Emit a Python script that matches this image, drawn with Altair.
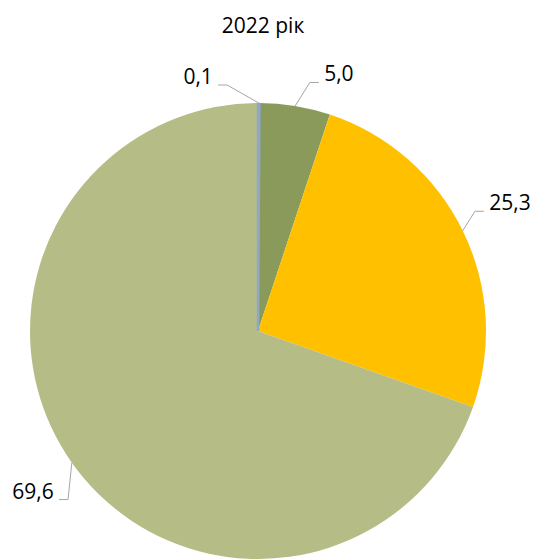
import altair as alt
import pandas as pd

# ---- data ----
title_text = "2022 рік"
categories = ["Категорія 1", "Категорія 2", "Категорія 3", "Категорія 4"]
values = [0.1, 5.0, 25.3, 69.6]
labels = ["0,1", "5,0", "25,3", "69,6"]

# ---- style ----
colors = ["#8EA8C8", "#8A9A5B", "#FFC000", "#B5BC86"]
label_shift_deg = [-13.5, 8.2, -0.6, -0.4]   # angular nudge of each label from its slice middle
label_radius = [260, 268, 282, 277]          # label distance from pie centre (px)

W, H = 523, 551
CX, CY, R = 250, 323, 228
FONT = "Open Sans"
FS = 21

df = pd.DataFrame({
    "order": list(range(len(values))),
    "cat": categories,
    "value": values,
    "label": labels,
    "shift": label_shift_deg,
    "lr": label_radius,
})

color_enc = alt.Color("cat:N", scale=alt.Scale(domain=categories, range=colors), legend=None)

pie = alt.Chart(df).mark_arc(radius=R).encode(
    theta=alt.Theta("value:Q", stack=True),
    color=color_enc,
    order=alt.Order("order:Q"),
    x=alt.value(CX),
    y=alt.value(CY),
)

# the tiny first slice is drawn again with an outline so it stays visible
thin = alt.Chart(df).transform_window(
    cum="sum(value)", sort=[alt.SortField("order")], frame=[None, 0]
).transform_joinaggregate(total="sum(value)").transform_calculate(
    t0="(datum.cum - datum.value)/datum.total*2*PI",
    t1="datum.cum/datum.total*2*PI",
).transform_filter("datum.order == 0").mark_arc(radius=R - 1, strokeWidth=2.5).encode(
    theta=alt.Theta("t0:Q", scale=None),
    theta2="t1:Q",
    color=color_enc,
    stroke=alt.Stroke("cat:N", scale=alt.Scale(domain=categories, range=colors), legend=None),
    x=alt.value(CX),
    y=alt.value(CY),
)

base = alt.Chart(df).transform_window(
    cum="sum(value)", sort=[alt.SortField("order")], frame=[None, 0]
).transform_joinaggregate(
    total="sum(value)"
).transform_calculate(
    mid="(datum.cum - datum.value/2)/datum.total*2*PI",
).transform_calculate(
    la="datum.mid + datum.shift*PI/180",
    ax=f"{CX} + {R}*sin(datum.mid)",
    ay=f"{CY} - {R}*cos(datum.mid)",
).transform_calculate(
    lx=f"{CX} + datum.lr*sin(datum.la)",
    ly=f"{CY} - datum.lr*cos(datum.la)",
    hw="length(datum.label)*6",
).transform_calculate(
    side="datum.lx < datum.ax ? -1 : 1",
    ey="datum.ly + 7",
).transform_calculate(
    hx1="datum.lx - datum.side*(datum.hw + 2)",
    hx2="datum.lx - datum.side*(datum.hw + 11)",
)

text = base.mark_text(font=FONT, fontSize=FS, color="#000000", baseline="middle", align="center").encode(
    x=alt.X("lx:Q", scale=None, axis=None),
    y=alt.Y("ly:Q", scale=None, axis=None),
    text="label:N",
)

hseg = base.mark_rule(color="#A6A6A6", strokeWidth=1).encode(
    x=alt.X("hx1:Q", scale=None, axis=None),
    x2="hx2:Q",
    y=alt.Y("ey:Q", scale=None, axis=None),
)

dseg = base.mark_rule(color="#A6A6A6", strokeWidth=1).encode(
    x=alt.X("hx2:Q", scale=None, axis=None),
    y=alt.Y("ey:Q", scale=None, axis=None),
    x2="ax:Q",
    y2="ay:Q",
)

title = alt.Chart(pd.DataFrame({"t": [title_text]})).mark_text(
    font=FONT, fontSize=FS, color="#000000", baseline="middle", align="center"
).encode(text="t:N", x=alt.value(255), y=alt.value(19))

chart = alt.layer(pie, thin, hseg, dseg, text, title).properties(
    width=W, height=H, padding=0, autosize=alt.AutoSizeParams(type="none")
).configure_view(stroke=None)

chart.save("out.html", embed_options={"renderer": "svg", "actions": False})
